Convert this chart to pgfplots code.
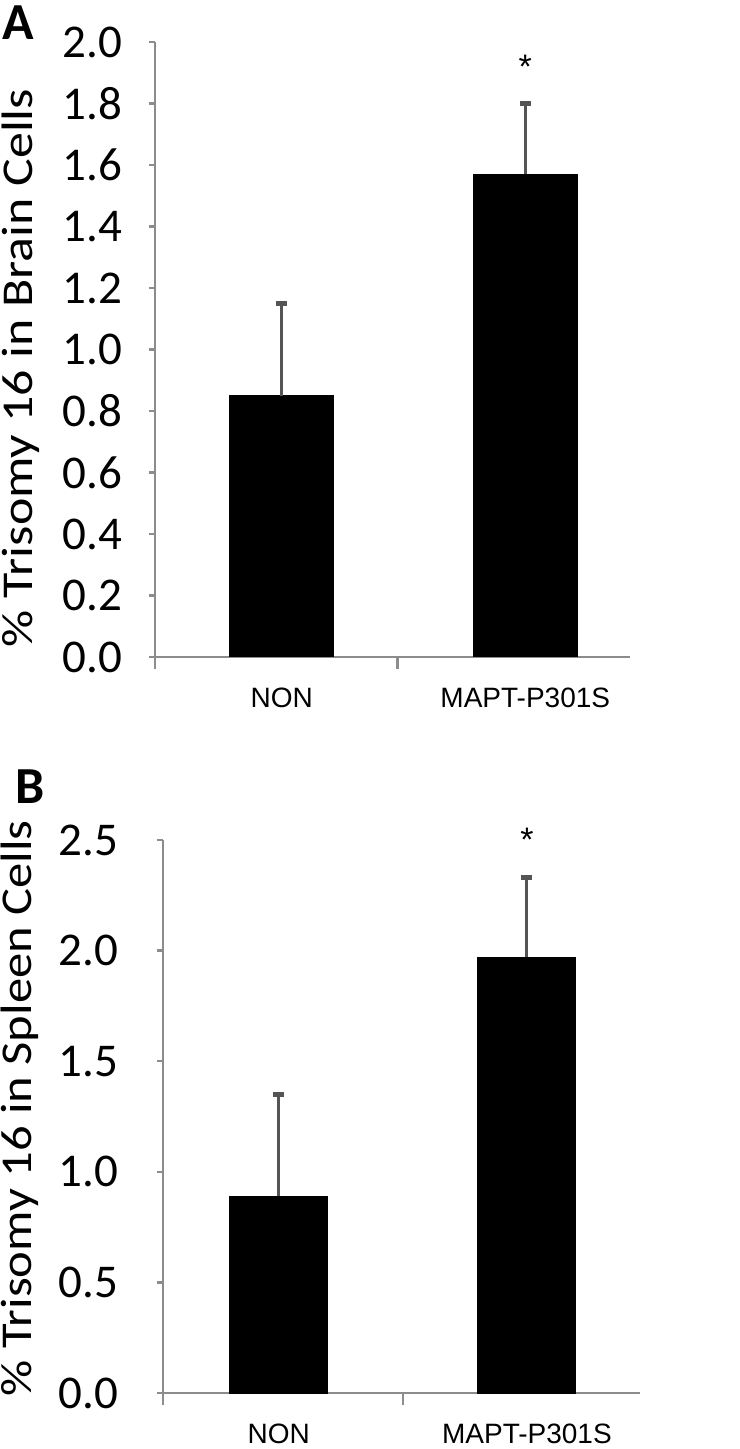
\documentclass[border=0pt]{standalone}
\usepackage{fontspec}
\setmainfont{Carlito}
\newfontfamily\arialfont{Liberation Sans}
\usepackage{graphicx}
\usepackage{pgfplots}
\pgfplotsset{compat=1.18}
\definecolor{axgray}{HTML}{8C8C8C}
\definecolor{errgray}{HTML}{555555}
\pgfplotsset{
  mybar/.style={
    scale only axis,
    axis lines=left,
    axis line style={axgray, line width=1.2pt, -},
    every tick/.style={axgray, line width=1.2pt},
    tick align=outside,
    major tick length=3pt,
    ymin=0,
    xtick={0,1},
    xticklabels={NON, MAPT-P301S},
    xtick style={draw=none},
    xticklabel style={font=\arialfont\fontsize{14}{16}\selectfont, yshift=-9pt, text=black},
    yticklabel style={font=\fontsize{23.5}{27}\selectfont, text=black},
    /pgf/number format/.cd, fixed, fixed zerofill, precision=1, assume math mode=true,
    /pgfplots/.cd,
    ylabel style={font=\fontsize{22}{26}\selectfont, anchor=center},
    extra x tick labels={},
    extra x tick style={major tick length=6pt, xtick style={draw=axgray}},
    clip=false,
  },
  mybars/.style={
    ybar, fill=black, draw=black, line width=0.5pt,
    error bars/.cd, y dir=plus, y explicit,
    error bar style={errgray, line width=1.5pt},
    error mark options={rotate=90, mark size=2.75pt, line width=2.5pt, errgray},
    /pgfplots/.cd,
  },
}
\begin{document}
\begin{tikzpicture}[x=1pt,y=1pt]
\useasboundingbox (0,0) rectangle (369.5,724.5);
% Panel A
\begin{axis}[mybar,
  at={(77.5pt,396pt)}, anchor=south west,
  width=237.5pt, height=307.5pt,
  xmin=-0.52, xmax=1.43,
  ymax=2.0, ytick={0,0.2,...,2.01},
  extra x ticks={-0.52,0.475},
  ylabel={\scalebox{1.18}[1]{\% Trisomy 16 in Brain Cells}},
  ylabel style={at={(axis description cs:-0.282,0.47)}},
  yticklabel style={xshift=-10pt},
]
\addplot[mybars, bar width=0.426] coordinates {
  (0,0.85) +- (0,0.30)
  (1,1.57) +- (0,0.23)
};
\node[font=\arialfont\fontsize{17}{18}\selectfont] at (axis cs:1,1.92) {*};
\end{axis}
% Panel B
\begin{axis}[mybar,
  at={(81.5pt,28pt)}, anchor=south west,
  width=238.5pt, height=276.5pt,
  xmin=-0.467, xmax=1.456,
  ymax=2.5, ytick={0,0.5,...,2.51},
  extra x ticks={-0.467,0.5},
  ylabel={\scalebox{1.15}[1]{\% Trisomy 16 in Spleen Cells}},
  ylabel style={at={(axis description cs:-0.30,0.515)}},
  yticklabel style={xshift=-16pt},
]
\addplot[mybars, bar width=0.395] coordinates {
  (0,0.89) +- (0,0.46)
  (1,1.97) +- (0,0.36)
};
\node[font=\arialfont\fontsize{17}{18}\selectfont] at (axis cs:1,2.50) {*};
\end{axis}
\node[font=\fontsize{26}{30}\selectfont\bfseries] at (9,713) {A};
\node[font=\fontsize{26}{30}\selectfont\bfseries] at (15,331) {B};
\end{tikzpicture}
\end{document}
